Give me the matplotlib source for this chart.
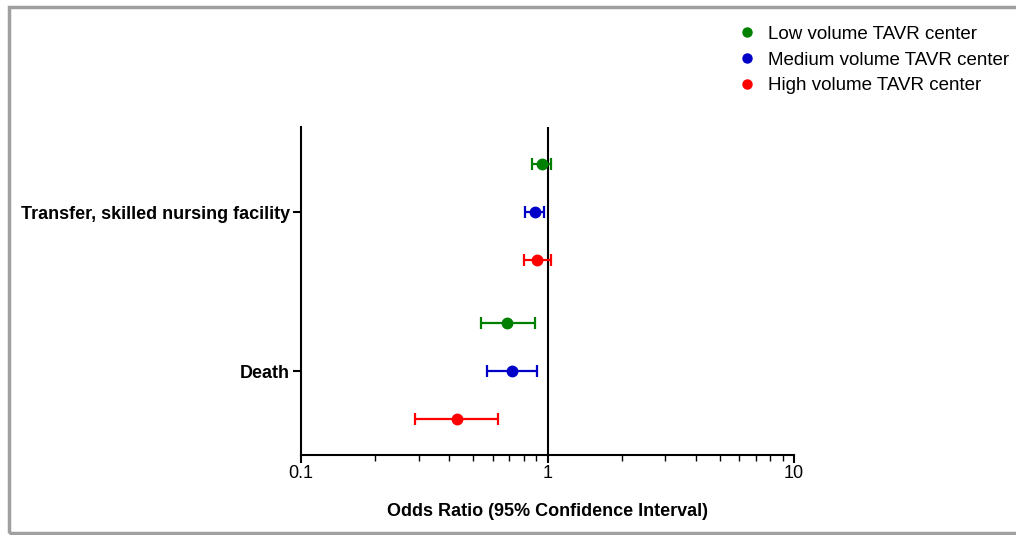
import numpy as np
import matplotlib.pyplot as plt
from matplotlib.patches import Rectangle
from matplotlib.lines import Line2D

plt.rcParams['font.family'] = ['Liberation Sans', 'DejaVu Sans']

# data
outcomes = ["Transfer, skilled nursing facility", "Death"]
groups = ["Low volume TAVR center", "Medium volume TAVR center", "High volume TAVR center"]
colors = ["#008000", "#0000c8", "#ff0000"]

odds = [[0.948, 0.888, 0.908],
        [0.686, 0.719, 0.429]]
ci_low = [[0.864, 0.814, 0.804],
          [0.538, 0.567, 0.289]]
ci_high = [[1.03, 0.97, 1.035],
           [0.886, 0.908, 0.631]]

fig = plt.figure(figsize=(10.16, 5.35), dpi=100)
ax = fig.add_axes([301/1016, 1 - 455/535, 493/1016, 328/535])

centers = [2, 1]
offsets = [0.3, 0, -0.3]
for j, g in enumerate(groups):
    for i in range(len(outcomes)):
        y = centers[i] + offsets[j]
        o = odds[i][j]
        err = [[o - ci_low[i][j]], [ci_high[i][j] - o]]
        ax.errorbar(o, y, xerr=err, fmt='o', color=colors[j], ms=7.5,
                    elinewidth=1.6, capsize=4, capthick=1.6)

ax.axvline(1, color='black', lw=1.5, zorder=0)

ax.set_xscale('log')
ax.set_xlim(0.1, 10)
ax.set_ylim(0.472, 2.535)
ax.set_xticks([0.1, 1, 10])
ax.set_xticklabels(["0.1", "1", "10"], fontsize=13)
ax.set_yticks(centers)
ax.set_yticklabels(outcomes, fontsize=13, fontweight='bold')
ax.tick_params(axis='y', length=6, width=1.5, pad=2)
ax.tick_params(axis='x', which='major', length=6, width=1.5, pad=1)
ax.tick_params(axis='x', which='minor', length=4, width=1)
ax.spines['top'].set_visible(False)
ax.spines['right'].set_visible(False)
ax.spines['left'].set_linewidth(1.5)
ax.spines['bottom'].set_linewidth(1.5)
ax.set_xlabel("Odds Ratio (95% Confidence Interval)", fontsize=13,
              fontweight='bold', labelpad=15)

handles = [Line2D([], [], marker='o', ls='', color=c, ms=6.5) for c in colors]
fig.legend(handles, groups, loc='upper left', bbox_to_anchor=(719/1016, 1 - 9/535),
           frameon=False, fontsize=13.5, handletextpad=0.5, labelspacing=0.45,
           handlelength=1.2)

# gray frame around the figure
fig.patches.append(Rectangle((9/1016, 2/535), 1.2, 1 - 9/535, transform=fig.transFigure,
                             fill=False, edgecolor='#a0a0a0', lw=2.5, clip_on=False))

fig.savefig("out.png", dpi=100)
